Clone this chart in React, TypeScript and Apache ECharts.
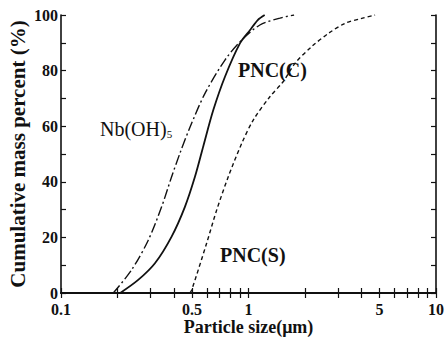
import { useEffect, useRef } from "react";
import * as echarts from "echarts";

const nbX = [0.19, 0.238, 0.292, 0.344, 0.389, 0.431, 0.488, 0.586, 0.749, 0.92, 1.15, 1.47, 1.75];
const nbY = [0, 8.3, 19, 31, 41.8, 50.3, 59.7, 71.8, 83.8, 91, 96.4, 98.9, 100];

const pcX = [0.207, 0.258, 0.317, 0.389, 0.458, 0.518, 0.575, 0.649, 0.749, 0.9, 1.02, 1.12, 1.22];
const pcY = [0, 4.7, 10.7, 20.3, 31, 41.8, 53, 65.8, 77.8, 89.8, 94.6, 98.2, 100];

const psX = [0.487, 0.498, 0.598, 0.677, 0.78, 0.92, 1.06, 1.3, 1.53, 1.77, 2.17, 2.67, 3.27, 4.02, 4.73];
const psY = [0, 1.1, 17.9, 29.9, 41.8, 53.8, 62.2, 70.6, 76, 82.6, 88.6, 93.4, 97, 98.8, 100];

const xLabels = [0.1, 0.5, 1, 5, 10];
const xTicks = [0.1, 0.2, 0.3, 0.4, 0.5, 0.6, 0.7, 0.8, 0.9, 1, 2, 3, 4, 5, 6, 7, 8, 9, 10];
const yTicks = [0, 10, 20, 30, 40, 50, 60, 70, 80, 90, 100];

const FONT = "'Liberation Serif', 'DejaVu Serif', serif";

export default function App() {
  const ref = useRef<HTMLDivElement>(null);
  useEffect(() => {
    if (!ref.current) return;
    const chart = echarts.init(ref.current, undefined, { renderer: "svg" });
    const pair = (xs: number[], ys: number[]) => xs.map((x, i) => [x, ys[i]]);
    const axisLine = { show: true, lineStyle: { color: "#111", width: 1.6 } };
    const tick = (values: number[]) => ({
      show: true,
      inside: true,
      length: 5,
      customValues: values,
      lineStyle: { color: "#111", width: 1.2 },
    });
    chart.setOption({
      animation: false,
      backgroundColor: "#fff",
      grid: { left: 61, right: 9, top: 15, bottom: 44, containLabel: false, outerBoundsMode: "none" },
      xAxis: [
        {
          type: "log",
          logBase: 10,
          min: 0.1,
          max: 10,
          position: "bottom",
          axisLine: { show: true, lineStyle: { color: "#111", width: 2 } },
          axisTick: tick(xTicks),
          axisLabel: {
            customValues: xLabels,
            formatter: (v: number) => String(Number(Number(v).toPrecision(3))),
            color: "#111",
            fontFamily: FONT,
            fontSize: 16,
            lineHeight: 14,
            fontWeight: "bold",
            margin: 9,
          },
          splitLine: { show: false },
          name: "Particle size(μm)",
          nameLocation: "middle",
          nameGap: 26,
          nameMoveOverlap: false,
          nameTextStyle: { color: "#111", fontFamily: FONT, fontSize: 18, lineHeight: 16, fontWeight: "bold" },
        },
        {
          type: "log",
          logBase: 10,
          min: 0.1,
          max: 10,
          position: "top",
          axisLine,
          axisTick: tick(xTicks),
          axisLabel: { show: false },
          splitLine: { show: false },
        },
      ],
      yAxis: [
        {
          type: "value",
          min: 0,
          max: 100,
          interval: 20,
          position: "left",
          axisLine,
          axisTick: tick(yTicks),
          axisLabel: { color: "#111", fontFamily: FONT, fontSize: 16, lineHeight: 14, fontWeight: "bold", margin: 3 },
          splitLine: { show: false },
          name: "Cumulative mass percent (%)",
          nameLocation: "middle",
          nameRotate: 90,
          nameGap: 33,
          nameMoveOverlap: false,
          nameTextStyle: { color: "#111", fontFamily: FONT, fontSize: 21, lineHeight: 20, fontWeight: "bold" },
        },
        {
          type: "value",
          min: 0,
          max: 100,
          interval: 20,
          position: "right",
          axisLine,
          axisTick: tick(yTicks),
          axisLabel: { show: false },
          splitLine: { show: false },
        },
      ],
      series: [
        {
          name: "Nb(OH)5",
          type: "line",
          data: pair(nbX, nbY),
          symbol: "none",
          smooth: 0.3,
          lineStyle: { color: "#111", width: 1.4, type: [10, 3, 2, 3] },
        },
        {
          name: "PNC(C)",
          type: "line",
          data: pair(pcX, pcY),
          symbol: "none",
          smooth: 0.3,
          lineStyle: { color: "#111", width: 1.8, type: "solid" },
        },
        {
          name: "PNC(S)",
          type: "line",
          data: pair(psX, psY),
          symbol: "none",
          smooth: 0.3,
          lineStyle: { color: "#111", width: 1.4, type: [4, 3] },
        },
      ],
      graphic: [
        {
          type: "text",
          left: 100,
          top: 119,
          style: {
            text: "Nb(OH){s|5}",
            fill: "#111",
            font: `20px ${FONT}`,
            rich: { s: { fontSize: 11, fontFamily: FONT, fill: "#111", padding: [10, 0, 0, 0] } },
          },
        },
        {
          type: "text",
          left: 238,
          top: 60,
          style: { text: "PNC(C)", fill: "#111", font: `bold 20px ${FONT}` },
        },
        {
          type: "text",
          left: 220,
          top: 245,
          style: { text: "PNC(S)", fill: "#111", font: `bold 20px ${FONT}` },
        },
      ],
    });
    return () => chart.dispose();
  }, []);
  return <div ref={ref} style={{ width: 445, height: 337, position: "absolute", left: 0, top: 0 }} />;
}
